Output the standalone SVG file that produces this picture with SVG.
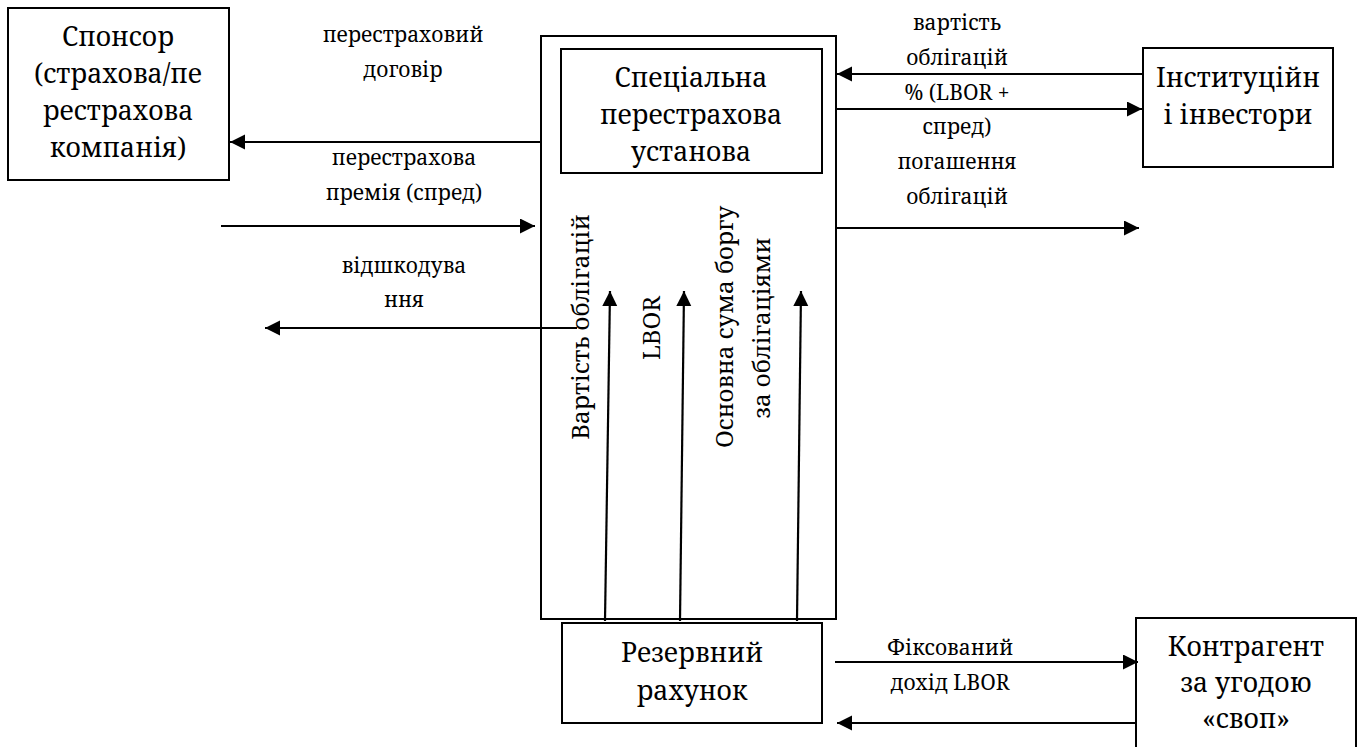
<svg xmlns="http://www.w3.org/2000/svg" width="1365" height="747" viewBox="0 0 1365 747">
<defs>
<marker id="ah" markerUnits="userSpaceOnUse" markerWidth="16" markerHeight="16" refX="15" refY="7.5" orient="auto">
<path d="M0,0 L15,7.5 L0,15 z" fill="#000"/>
</marker>
<style>
.box{fill:#fff;stroke:#000;stroke-width:2}
.big{font-size:26.5px;text-anchor:middle}
.lbl{font-size:21px;text-anchor:middle}
.vt{font-size:24px;text-anchor:middle}
.c line{stroke:#000;stroke-width:2.2;marker-end:url(#ah)}
</style>
</defs>
<rect width="1365" height="747" fill="#fff"/>
<g id="spv" font-family="Noto Serif, DejaVu Serif, serif">
<rect class="box" x="541" y="36" width="295" height="583"/>
<rect class="box" x="561" y="49" width="261" height="124"/>
<text class="big" x="691" y="87">Спеціальна</text>
<text class="big" x="691" y="124">перестрахова</text>
<text class="big" x="691" y="161">установа</text>
</g>
<g id="sponsor" font-family="Noto Serif, DejaVu Serif, serif">
<rect class="box" x="8" y="8" width="221" height="172"/>
<text class="big" x="118" y="46">Спонсор</text>
<text class="big" x="118" y="83">(страхова/пе</text>
<text class="big" x="118" y="120">рестрахова</text>
<text class="big" x="118" y="157">компанія)</text>
</g>
<g id="investors" font-family="Noto Serif, DejaVu Serif, serif">
<rect class="box" x="1143" y="48" width="190" height="119"/>
<text class="big" x="1238" y="87">Інституційн</text>
<text class="big" x="1238" y="124">і інвестори</text>
</g>
<g id="reserve" font-family="Noto Serif, DejaVu Serif, serif">
<rect class="box" x="562" y="623" width="260" height="100"/>
<text class="big" x="692" y="662">Резервний</text>
<text class="big" x="692" y="700">рахунок</text>
</g>
<g id="counterparty" font-family="Noto Serif, DejaVu Serif, serif">
<rect class="box" x="1136" y="618" width="220" height="140"/>
<text class="big" x="1246" y="656">Контрагент</text>
<text class="big" x="1246" y="692">за угодою</text>
<text class="big" x="1246" y="728">«своп»</text>
</g>
<g id="connectors" class="c">
<line x1="541" y1="142" x2="230" y2="142"/>
<line x1="221" y1="226" x2="535" y2="226"/>
<line x1="577" y1="328" x2="265" y2="328"/>
<line x1="1143" y1="74" x2="837" y2="74"/>
<line x1="836" y1="109" x2="1142" y2="109"/>
<line x1="836" y1="228" x2="1139" y2="228"/>
<line x1="605" y1="621" x2="610" y2="291"/>
<line x1="680" y1="621" x2="684" y2="291"/>
<line x1="797" y1="621" x2="801" y2="291"/>
<line x1="835" y1="662" x2="1138" y2="662"/>
<line x1="1136" y1="723" x2="837" y2="723"/>
</g>
<g id="labels" font-family="Noto Serif, DejaVu Serif, serif">
<text class="lbl" x="403" y="42">перестраховий</text>
<text class="lbl" x="403" y="77">договір</text>
<text class="lbl" x="404" y="165">перестрахова</text>
<text class="lbl" x="404" y="200">премія (спред)</text>
<text class="lbl" x="404" y="273">відшкодува</text>
<text class="lbl" x="404" y="307">ння</text>
<text class="lbl" x="957" y="30">вартість</text>
<text class="lbl" x="957" y="65">облігацій</text>
<text class="lbl" x="957" y="100">% (LBOR +</text>
<text class="lbl" x="957" y="134">спред)</text>
<text class="lbl" x="957" y="169">погашення</text>
<text class="lbl" x="957" y="204">облігацій</text>
<text class="lbl" x="950" y="655">Фіксований</text>
<text class="lbl" x="950" y="690">дохід LBOR</text>
<text class="vt" transform="translate(589,327) rotate(-90)">Вартість облігацій</text>
<text class="vt" transform="translate(660,328) rotate(-90)">LBOR</text>
<text class="vt" transform="translate(733,327) rotate(-90)">Основна сума боргу</text>
<text class="vt" transform="translate(770,328) rotate(-90)">за облігаціями</text>
</g>
</svg>
